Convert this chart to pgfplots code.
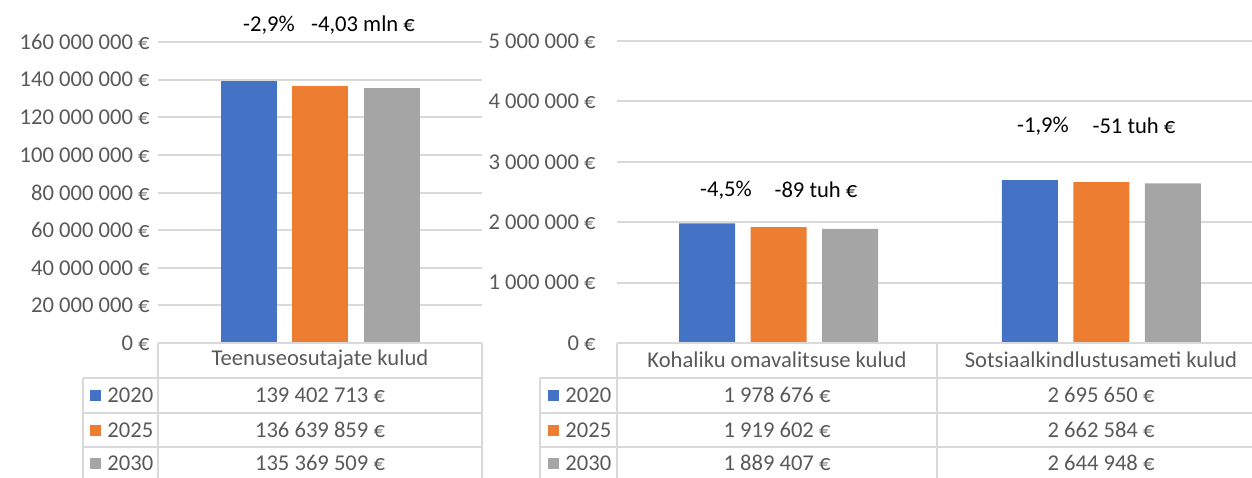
\documentclass[border=0pt]{standalone}
\usepackage{fontspec}
\setmainfont{Carlito}
\usepackage{pgfplots}
\pgfplotsset{compat=1.18}
\definecolor{cblue}{HTML}{4472C4}
\definecolor{corange}{HTML}{ED7D31}
\definecolor{cgray}{HTML}{A5A5A5}
\definecolor{gridc}{HTML}{D9D9D9}
\definecolor{txt}{HTML}{595959}
\begin{document}
\fontsize{11.3pt}{13pt}\selectfont
\begin{tikzpicture}
\useasboundingbox (0,0) rectangle (626pt,-238.5pt);
\pgfplotsset{
 common/.style={
  scale only axis, anchor=south west, ybar=7.75pt, bar width=28pt,
  axis line style={draw=none}, ymin=0, major tick length=0pt,
  ymajorgrids, grid style={gridc, line width=1pt},
  xtick=\empty, scaled y ticks=false,
  yticklabel style={text=txt, font=\fontsize{11.3pt}{13pt}\selectfont, inner sep=0pt, anchor=east},
  every axis plot/.append style={draw=none},
  clip=false,
 }
}
\begin{axis}[common, at={(79pt,-171.5pt)}, width=162pt, height=150.5pt,
  ymax=160000000, xmin=-0.5, xmax=0.5,
  ytick={0,20000000,40000000,60000000,80000000,100000000,120000000,140000000,160000000},
  yticklabels={0~€,20~000~000~€,40~000~000~€,60~000~000~€,80~000~000~€,100~000~000~€,120~000~000~€,140~000~000~€,160~000~000~€},
  yticklabel style={xshift=-4pt}]
\addplot[fill=cblue] coordinates {(0,139402713)};
\addplot[fill=corange] coordinates {(0,136639859)};
\addplot[fill=cgray] coordinates {(0,135369509)};
\end{axis}
\begin{axis}[common, at={(308.5pt,-171.5pt)}, width=317.5pt, height=151pt,
  ymax=5000000, xmin=-0.5, xmax=1.466,
  ytick={0,1000000,2000000,3000000,4000000,5000000},
  yticklabels={0~€,1~000~000~€,2~000~000~€,3~000~000~€,4~000~000~€,5~000~000~€},
  yticklabel style={xshift=-10.5pt}]
\addplot[fill=cblue] coordinates {(0,1978676) (1,2695650)};
\addplot[fill=corange] coordinates {(0,1919602) (1,2662584)};
\addplot[fill=cgray] coordinates {(0,1889407) (1,2644948)};
\end{axis}
\begin{scope}[x=0.5pt,y=-0.5pt]
 % table lines left
 \draw[gridc, line width=1pt] (158,343) -- (482,343);
 \draw[gridc, line width=1pt] (158,343) -- (158,490);
 \draw[gridc, line width=1pt] (482,343) -- (482,490);
 \draw[gridc, line width=1pt] (83,378) -- (83,490);
 \foreach \yy in {378,413,447} {\draw[gridc, line width=1pt] (83,\yy) -- (482,\yy);}
 % table lines right
 \draw[gridc, line width=1pt] (617,343) -- (1260,343);
 \draw[gridc, line width=1pt] (617,343) -- (617,490);
 \draw[gridc, line width=1pt] (937,343) -- (937,490);
 \draw[gridc, line width=1pt] (540,378) -- (540,490);
 \foreach \yy in {378,413,447} {\draw[gridc, line width=1pt] (540,\yy) -- (1260,\yy);}
 % headers
 \node[text=txt] at (320,360) {Teenuseosutajate kulud};
 \node[text=txt] at (777,360) {Kohaliku omavalitsuse kulud};
 \node[text=txt] at (1101,360) {Sotsiaalkindlustusameti kulud};
 % legend keys
 \foreach \yy/\cc/\lab in {395/cblue/2020,430/corange/2025,463/cgray/2030} {
   \fill[\cc] (90,\yy-5.5) rectangle (101,\yy+5.5);
   \node[text=txt, anchor=west, inner sep=0pt] at (107,\yy) {\lab};
   \fill[\cc] (548,\yy-5.5) rectangle (559,\yy+5.5);
   \node[text=txt, anchor=west, inner sep=0pt] at (565,\yy) {\lab};
 }
 % values
 \node[text=txt] at (320,395) {139~402~713~€};
 \node[text=txt] at (320,430) {136~639~859~€};
 \node[text=txt] at (320,463) {135~369~509~€};
 \node[text=txt] at (777,395) {1~978~676~€};
 \node[text=txt] at (777,430) {1~919~602~€};
 \node[text=txt] at (777,463) {1~889~407~€};
 \node[text=txt] at (1101,395) {2~695~650~€};
 \node[text=txt] at (1101,430) {2~662~584~€};
 \node[text=txt] at (1101,463) {2~644~948~€};
 % annotations
 \node at (269,25) {-2,9\%};
 \node at (363,25) {-4,03 mln €};
 \node at (726,190) {-4,5\%};
 \node at (816,190) {-89 tuh €};
 \node at (1043,126) {-1,9\%};
 \node at (1134,126) {-51 tuh €};
\end{scope}
\end{tikzpicture}
\end{document}
